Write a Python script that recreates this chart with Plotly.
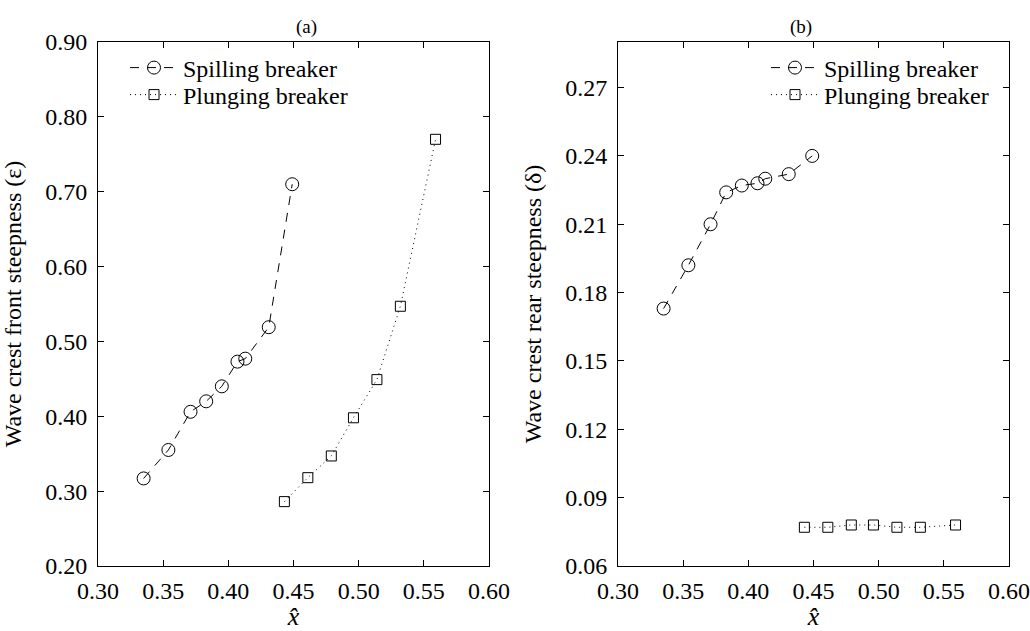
import plotly.graph_objects as go

# ---- data ----
x_spill = [0.335, 0.354, 0.371, 0.383, 0.395, 0.407, 0.413, 0.431, 0.449]
eps_spill = [0.317, 0.355, 0.406, 0.420, 0.440, 0.473, 0.477, 0.519, 0.710]
delta_spill = [0.173, 0.192, 0.210, 0.224, 0.227, 0.228, 0.230, 0.232, 0.240]

x_plunge = [0.443, 0.461, 0.479, 0.496, 0.514, 0.532, 0.559]
eps_plunge = [0.286, 0.318, 0.347, 0.398, 0.449, 0.547, 0.770]
delta_plunge = [0.077, 0.077, 0.078, 0.078, 0.077, 0.077, 0.078]

FONT = "Liberation Serif, Times New Roman, DejaVu Serif, serif"
W, H = 1030, 631

fig = go.Figure()

spill_line = dict(color="black", width=1, dash="9px,8px")
plunge_line = dict(color="black", width=1, dash="1px,4px")
circ = dict(symbol="circle-open", size=13, color="black", line=dict(width=1, color="black"))
sq = dict(symbol="square-open", size=10, color="black", line=dict(width=1, color="black"))

fig.add_trace(go.Scatter(x=x_spill, y=eps_spill, mode="lines+markers", name="Spilling breaker",
                         line=spill_line, marker=circ, xaxis="x", yaxis="y", legend="legend"))
fig.add_trace(go.Scatter(x=x_plunge, y=eps_plunge, mode="lines+markers", name="Plunging breaker",
                         line=plunge_line, marker=sq, xaxis="x", yaxis="y", legend="legend2"))
fig.add_trace(go.Scatter(x=x_spill, y=delta_spill, mode="lines+markers", name="Spilling breaker",
                         line=spill_line, marker=circ, xaxis="x2", yaxis="y2", legend="legend3"))
fig.add_trace(go.Scatter(x=x_plunge, y=delta_plunge, mode="lines+markers", name="Plunging breaker",
                         line=plunge_line, marker=sq, xaxis="x2", yaxis="y2", legend="legend4"))

ax_common = dict(showline=True, linecolor="black", linewidth=1, mirror="ticks", ticks="inside",
                 ticklen=6, tickcolor="black", showgrid=False, zeroline=False, automargin=False,
                 tickfont=dict(family=FONT, size=24, color="black"))

ydom = [(H - 566) / H, (H - 42) / H]
xtitle = dict(text="<i>x̂</i>", font=dict(family=FONT, size=26, color="black"), standoff=4)


def leg(xpx, ypx):
    return dict(x=xpx / W, y=1 - ypx / H, xanchor="left", yanchor="middle",
                bgcolor="rgba(0,0,0,0)", font=dict(family=FONT, size=24, color="black"),
                itemwidth=48, tracegroupgap=0)


fig.update_layout(
    width=W, height=H,
    margin=dict(l=0, r=0, t=0, b=0, autoexpand=False),
    paper_bgcolor="white", plot_bgcolor="white",
    showlegend=True,
    font=dict(family=FONT, color="black"),
    xaxis=dict(domain=[98 / W, 489 / W], range=[0.30, 0.60], dtick=0.05, tick0=0.30,
               tickformat=".2f", anchor="y", title=xtitle, ticklabelstandoff=3, **ax_common),
    yaxis=dict(domain=ydom, range=[0.20, 0.90], dtick=0.10, tick0=0.20, tickformat=".2f",
               anchor="x", ticklabelstandoff=5,
               title=dict(text="Wave crest front steepness (ε)",
                          font=dict(family=FONT, size=24, color="black"), standoff=16),
               **ax_common),
    xaxis2=dict(domain=[618 / W, 1009 / W], range=[0.30, 0.60], dtick=0.05, tick0=0.30,
                tickformat=".2f", anchor="y2", title=xtitle, ticklabelstandoff=3, **ax_common),
    yaxis2=dict(domain=ydom, range=[0.06, 0.29], dtick=0.03, tick0=0.06, tickformat=".2f",
                anchor="x2", ticklabelstandoff=5,
                title=dict(text="Wave crest rear steepness (δ)",
                           font=dict(family=FONT, size=24, color="black"), standoff=16),
                **ax_common),
    legend=leg(125, 68),
    legend2=leg(125, 95),
    legend3=leg(766, 68),
    legend4=leg(766, 95),
    annotations=[
        dict(text="(a)", x=(98 + 489) / 2 / W, y=1 - 14 / H, xref="paper", yref="paper",
             showarrow=False, font=dict(family=FONT, size=19, color="black")),
        dict(text="(b)", x=(618 + 1009) / 2 / W, y=1 - 14 / H, xref="paper", yref="paper",
             showarrow=False, font=dict(family=FONT, size=19, color="black")),
    ],
)

fig.write_html("out.html")
